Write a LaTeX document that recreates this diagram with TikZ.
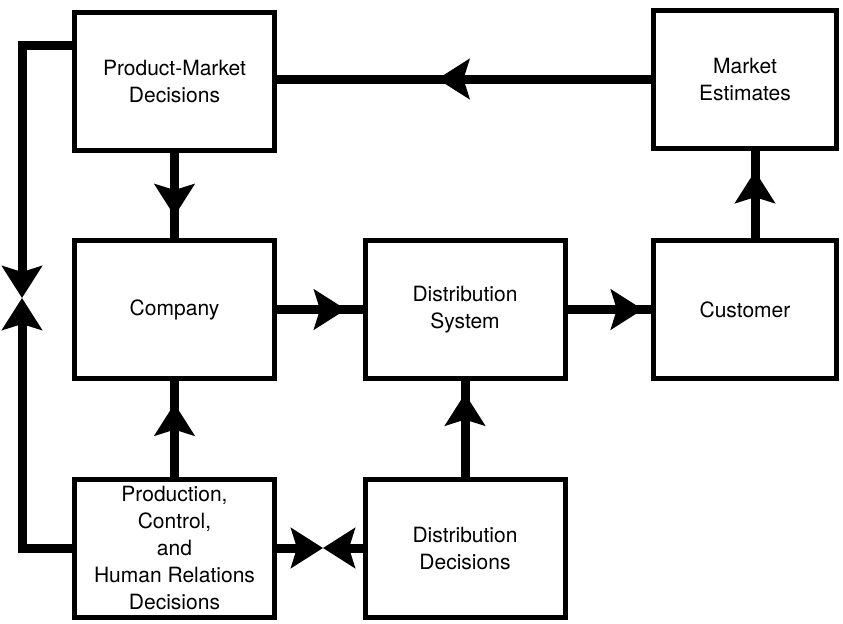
\documentclass[tikz,border=0pt]{standalone}
\usepackage{fontspec}
\setmainfont{TeX Gyre Heros}
\usepackage{tikz}
\usetikzlibrary{positioning, arrows.meta, decorations.markings}

\begin{document}
\begin{tikzpicture}[x=0.5pt, y=-0.5pt,
    box/.style={draw, line width=2.5pt, align=center, inner sep=0pt, outer sep=0pt,
      minimum width=100pt, minimum height=69pt, font=\fontsize{10.5}{13.5}\selectfont},
    flow/.style={line width=4.5pt, postaction={decorate}, decoration={markings,
      mark=at position #1 with {\arrow{Stealth[length=16pt, width=20pt, inset=3pt]}}}},
    flow/.default=0.75,
    meet/.style={line width=4.5pt, -{Stealth[length=16pt, width=20pt, inset=3pt]}}]
     \useasboundingbox (0,0) rectangle (843,623);
     % boxes
     \node[box] (pm) at (174.5,81) {Product-Market\\Decisions};
     \node[box, minimum width=91.5pt] (me) at (745,79) {Market\\Estimates};
     \node[box] (co) at (174.5,309.5) {Company};
     \node[box] (ds) at (465,309.5) {Distribution\\System};
     \node[box, minimum width=91.5pt] (cu) at (745,309.5) {Customer};
     \node[box] (pr) at (174.5,548) {Production,\\Control,\\and\\Human Relations\\Decisions};
     \node[box] (dd) at (465,548) {Distribution\\Decisions};
     % connectors
     \draw[flow=0.57] (me.west) -- (me.west -| pm.east);
     \draw[flow=0.73] (pm) -- (co);
     \draw[flow=0.79] (co) -- (ds);
     \draw[flow=0.88] (ds) -- (cu);
     \draw[flow=0.75] ([xshift=5pt]cu.north) -- ([xshift=5pt]me.south);
     \draw[flow=0.75] (pr) -- (co);
     \draw[flow=0.85] (dd) -- (ds);
     % left loop, two heads meeting
     \coordinate (lm) at (22,298);
     \draw[meet] ([yshift=18pt]pm.west) -| (lm);
     \draw[meet] (pr.west) -| (lm);
     % bottom, two heads meeting
     \coordinate (bm) at (323,548);
     \draw[meet] (pr.east) -- (bm);
     \draw[meet] (dd.west) -- (bm);
   \end{tikzpicture}
\end{document}
